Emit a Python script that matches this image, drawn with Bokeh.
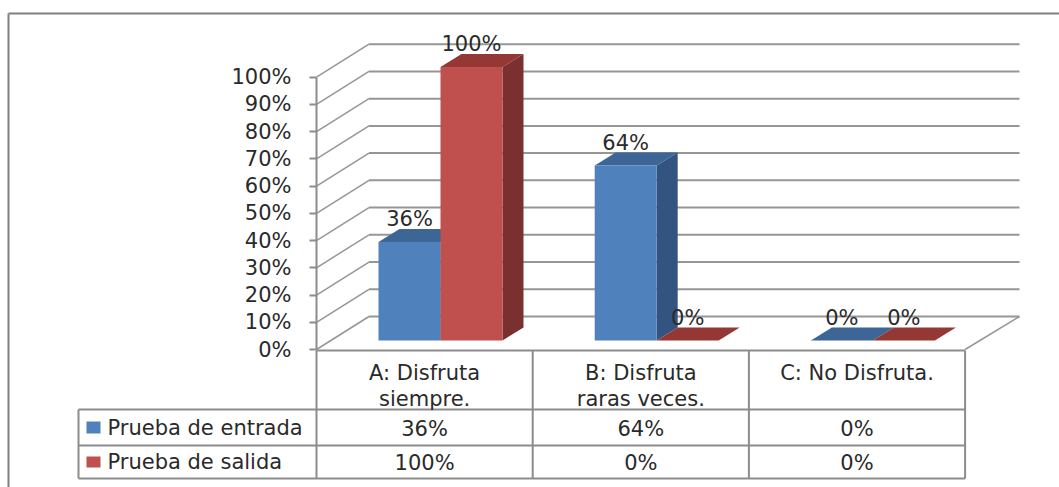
from bokeh.core.properties import value
from bokeh.embed import file_html
from bokeh.models import FixedTicker, PrintfTickFormatter, Range1d
from bokeh.plotting import figure
from bokeh.resources import INLINE

# Chart content
cat_line_one = ["A: Disfruta", "B: Disfruta", "C: No Disfruta."]
cat_line_two = ["siempre.", "raras veces.", ""]
series_names = ["Prueba de entrada", "Prueba de salida"]
entrada = [36, 64, 0]
salida = [100, 0, 0]
ticks = [0, 10, 20, 30, 40, 50, 60, 70, 80, 90, 100]

# Colours: front, top and side faces of each series
front_cols = ["#4F81BD", "#C0504D"]
top_cols = ["#3D6595", "#953735"]
side_cols = ["#335480", "#7A302E"]
GRID = "#969696"
TABLE = "#8C8C8C"
INK = "#2A2A2A"
FONT = "DejaVu Sans"
FS = "21px"

# Scale of the plot area: one category column and one percentage point on screen
W, H = 1059, 487
AXIS_X = 316
AXIS_Y0 = 349
CAT_W = 216.2
PCT_H = 2.723


def X(px):
    return (px - AXIS_X) / CAT_W


def Y(py):
    return (AXIS_Y0 - py) / PCT_H


# Oblique projection of the chart's depth
DEPTH_X, DEPTH_Y = 52.5 / CAT_W, 33 / PCT_H
BAR_DX, BAR_DY = 21 / CAT_W, 13 / PCT_H
BAR_W = 62 / CAT_W
BAR_START = 62 / CAT_W
BASE = 9 / PCT_H
BAR_SCALE = 1.004

p = figure(
    width=W, height=H, output_backend="svg", toolbar_location=None,
    x_range=Range1d(X(0), X(W)), y_range=Range1d(Y(H), Y(0)),
    x_axis_location=None, y_axis_location="left",
    min_border=0,
    outline_line_color=None, background_fill_color="white", border_fill_color="white",
)
p.grid.visible = False

# The value axis sits at the front-left corner of the floor
ax = p.yaxis[0]
ax.fixed_location = 0
ax.bounds = (ticks[0], ticks[-1])
ax.ticker = FixedTicker(ticks=ticks)
ax.formatter = PrintfTickFormatter(format="%d%%")
ax.axis_line_color = TABLE
ax.axis_line_width = 2
ax.major_tick_line_color = TABLE
ax.major_tick_line_width = 2
ax.major_tick_out = 7
ax.major_tick_in = 0
ax.minor_tick_line_color = None
ax.major_label_standoff = 18
ax.major_label_text_font = FONT
ax.major_label_text_font_size = FS
ax.major_label_text_color = INK

# Outer chart border, running off the page to the right and below
p.segment(x0=[X(8), X(8)], y0=[Y(13), Y(13)], x1=[X(W), X(8)], y1=[Y(13), Y(H)],
          line_color="#808080", line_width=2)

# Back wall and left wall lines, one pair per tick
p.segment(x0=[DEPTH_X] * len(ticks), y0=[t + DEPTH_Y for t in ticks],
          x1=[X(1019)] * len(ticks), y1=[t + DEPTH_Y for t in ticks],
          line_color=GRID, line_width=2)
p.segment(x0=[0] * len(ticks), y0=ticks,
          x1=[DEPTH_X] * len(ticks), y1=[t + DEPTH_Y for t in ticks],
          line_color=GRID, line_width=1.5)
# Right edge of the floor
p.segment(x0=[3], y0=[0], x1=[X(1019)], y1=[DEPTH_Y], line_color=GRID, line_width=1.5)

# Bars: side and top parallelograms behind the front face
for s, vals in enumerate([entrada, salida]):
    for c, v in enumerate(vals):
        x0 = c + BAR_START + s * BAR_W
        x1 = x0 + BAR_W
        y0 = BASE
        y1 = BASE + v * BAR_SCALE
        p.patch([x1, x1 + BAR_DX, x1 + BAR_DX, x1],
                [y0, y0 + BAR_DY, y1 + BAR_DY, y1],
                fill_color=side_cols[s], line_color=None)
        p.patch([x0, x1, x1 + BAR_DX, x0 + BAR_DX],
                [y1, y1, y1 + BAR_DY, y1 + BAR_DY],
                fill_color=top_cols[s], line_color=None)
        if v > 0:
            p.quad(left=[x0], right=[x1], bottom=[y0], top=[y1],
                   fill_color=front_cols[s], line_color=None)
        p.text(x=[x0 + BAR_W / 2], y=[y1], text=[f"{v}%"], y_offset=-23,
               text_align="center", text_baseline="middle",
               text_font=value(FONT), text_font_size=FS, text_color=INK)

# Data table: grid lines, with the legend cells reaching left of the axis
row_tops = [Y(350), Y(409), Y(445), Y(478)]
p.segment(x0=[0, X(78), X(78), X(78)], y0=row_tops, x1=[3] * 4, y1=row_tops,
          line_color=TABLE, line_width=2)
p.segment(x0=[0, 1, 2, 3], y0=[row_tops[0]] * 4, x1=[0, 1, 2, 3], y1=[row_tops[3]] * 4,
          line_color=TABLE, line_width=2)
p.segment(x0=[X(78)], y0=[row_tops[1]], x1=[X(78)], y1=[row_tops[3]],
          line_color=TABLE, line_width=2)

# Data table: text cells
centers = [c + 0.5 for c in range(3)]
text_style = dict(text_align="center", text_baseline="middle",
                  text_font=value(FONT), text_font_size=FS, text_color=INK)
p.text(x=centers, y=[Y(372)] * 3, text=cat_line_one, **text_style)
p.text(x=centers, y=[Y(398)] * 3, text=cat_line_two, **text_style)
p.text(x=centers, y=[Y(428)] * 3, text=[f"{v}%" for v in entrada], **text_style)
p.text(x=centers, y=[Y(462)] * 3, text=[f"{v}%" for v in salida], **text_style)

# Legend keys and series names
p.quad(left=[X(86)] * 2, right=[X(100)] * 2, top=[Y(421), Y(456)], bottom=[Y(433), Y(467)],
       fill_color=front_cols, line_color=None)
p.text(x=[X(107)] * 2, y=[Y(427), Y(461)], text=series_names, text_align="left",
       text_baseline="middle", text_font=value(FONT), text_font_size=FS, text_color=INK)

open("out.html", "w").write(file_html(p, INLINE))
